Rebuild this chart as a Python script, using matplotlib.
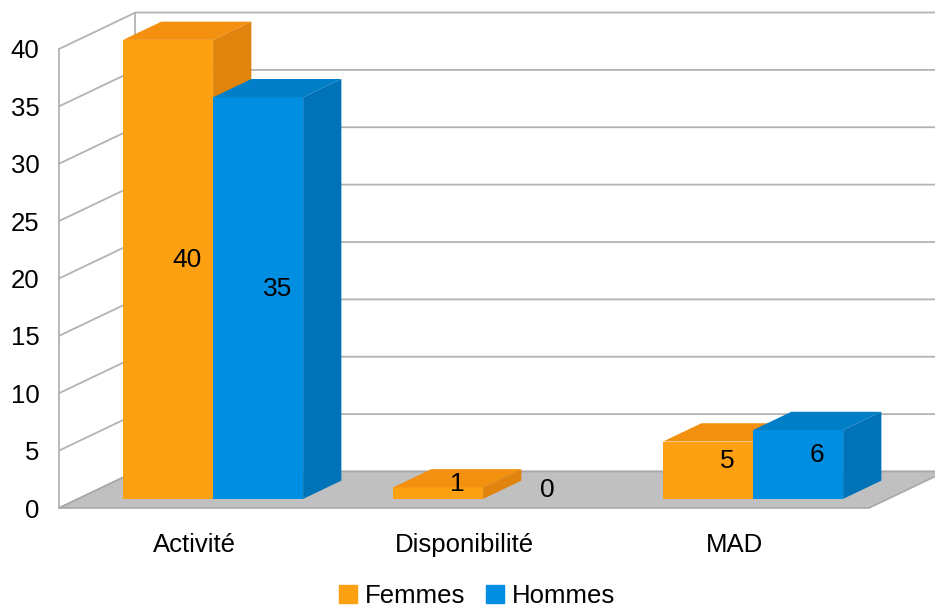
import matplotlib.pyplot as plt
from matplotlib.patches import Polygon, Patch

categories = ['Activité', 'Disponibilité', 'MAD']
series = ['Femmes', 'Hommes']
femmes = [40, 1, 5]
hommes = [35, 0, 6]
yticks = [0, 5, 10, 15, 20, 25, 30, 35, 40]

plt.rcParams['font.family'] = ['Liberation Sans', 'DejaVu Sans']

# front, top, side shades for each series
shades = {
    'Femmes': ('#fda012', '#f3900f', '#e0840d'),
    'Hommes': ('#008ee2', '#007ec8', '#0073b8'),
}

fig = plt.figure(figsize=(9.35, 6.09), dpi=100)
ax = fig.add_axes([59 / 935, 101 / 609, 810 / 935, 459 / 609])
ax.set_xlim(0, 3)
ax.set_ylim(0, 40)
for s in ax.spines.values():
    s.set_visible(False)

# oblique offset of the full depth, in data units
dx, dy = 0.2833, 3.18
grid = '#b3b3b3'

# floor
ax.add_patch(Polygon([(0, 0), (3, 0), (3 + dx, dy), (dx, dy)], closed=True,
                     fc='#c0c0c0', ec='#a8a8a8', lw=1.2, zorder=1, clip_on=False))

# side wall + back wall gridlines
for v in yticks:
    ax.plot([0, dx, 3 + dx], [v, v + dy, v + dy], color=grid, lw=1.3,
            zorder=0.5, clip_on=False)
ax.plot([0, 0], [0, 40], color=grid, lw=1.3, zorder=0.5, clip_on=False)
ax.plot([dx, dx], [dy, 40 + dy], color=grid, lw=1.3, zorder=0.5, clip_on=False)

# 3d bars: front face via ax.bar, top and side as polygons
w = 1 / 3
fx, fy = 0.25 * dx, 0.25 * dy
bx, by = 0.5 * dx, 0.5 * dy
z = 2
for i in range(len(categories)):
    for j, (name, vals) in enumerate(zip(series, [femmes, hommes])):
        v = vals[i]
        x0 = i + 1 / 6 + j * w + fx
        front, top, side = shades[name]
        if v > 0:
            ax.bar(x0, v, width=w, bottom=fy, align='edge', color=front,
                   zorder=z, clip_on=False)
            ax.add_patch(Polygon([(x0, fy + v), (x0 + w, fy + v),
                                  (x0 + w + bx, fy + v + by), (x0 + bx, fy + v + by)],
                                 closed=True, fc=top, zorder=z, clip_on=False))
            ax.add_patch(Polygon([(x0 + w, fy), (x0 + w + bx, fy + by),
                                  (x0 + w + bx, fy + v + by), (x0 + w, fy + v)],
                                 closed=True, fc=side, zorder=z, clip_on=False))
        ax.text(x0 + w / 2 + bx / 2, fy + v / 2 + by / 2, str(v), ha='center',
                va='center', fontsize=19, color='black', zorder=20)
        z += 1

ax.set_yticks(yticks)
ax.set_yticklabels([str(t) for t in yticks])
ax.set_xticks([0.5, 1.5, 2.5])
ax.set_xticklabels(categories)
ax.tick_params(axis='y', length=0, pad=14, labelsize=18.5)
ax.tick_params(axis='x', length=0, pad=18, labelsize=18.5)

handles = [Patch(color=shades[n][0]) for n in series]
fig.legend(handles, series, loc='center', bbox_to_anchor=(477 / 935, 13 / 609),
           ncol=2, frameon=False, fontsize=18.5, handlelength=0.7, handleheight=0.7,
           handletextpad=0.3, columnspacing=0.8, borderpad=0)

fig.savefig('out.png', dpi=100)
